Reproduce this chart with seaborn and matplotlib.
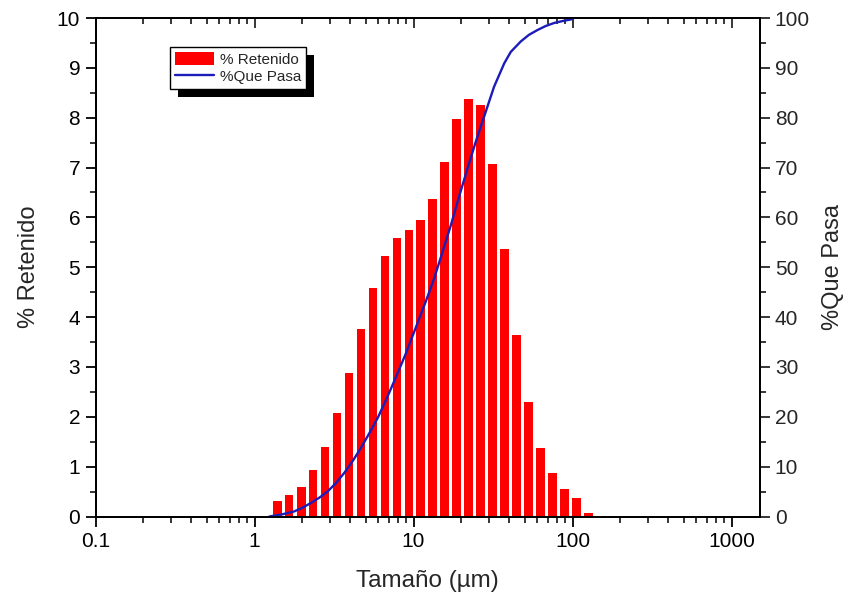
import numpy as np
import matplotlib
matplotlib.use("Agg")
import matplotlib.pyplot as plt
import seaborn as sns
from matplotlib.patches import Patch, Rectangle
from matplotlib.lines import Line2D
from matplotlib.ticker import FixedLocator, FixedFormatter, LogLocator, NullFormatter, MultipleLocator

# ---- data ----
tamano = [1.39, 1.65, 1.97, 2.34, 2.78, 3.31, 3.93, 4.68, 5.56, 6.61, 7.86, 9.35,
          11.1, 13.2, 15.7, 18.7, 22.2, 26.4, 31.4, 37.4, 44.5, 52.9, 62.9, 74.8,
          88.9, 106.0, 126.0]
retenido = [0.32, 0.44, 0.60, 0.93, 1.40, 2.07, 2.88, 3.76, 4.59, 5.23, 5.58, 5.75,
            5.94, 6.37, 7.12, 7.98, 8.38, 8.26, 7.08, 5.37, 3.64, 2.29, 1.37, 0.87,
            0.56, 0.37, 0.07]
tamano_linea = [1.24, 1.50, 1.77, 2.00, 2.26, 2.55, 2.88, 3.25, 3.66, 4.12, 4.66,
                5.25, 5.94, 6.70, 7.55, 8.90, 10.6, 12.0, 13.5, 15.2, 17.2, 19.4,
                21.9, 24.7, 27.8, 32.1, 37.2, 40.9, 47.3, 53.1, 60.3, 67.9, 76.6,
                86.9, 97.5, 102.0]
que_pasa = [0.0, 0.45, 1.0, 1.75, 2.7, 3.75, 5.0, 6.7, 8.7, 11.0, 13.7,
            16.6, 19.7, 23.3, 27.1, 32.5, 38.8, 43.3, 47.8, 53.0, 58.5, 64.3,
            69.9, 75.3, 80.2, 86.2, 90.9, 93.2, 95.3, 96.6, 97.6, 98.4, 99.0,
            99.4, 99.7, 100.0]
x_ticks = [0.1, 1, 10, 100, 1000]
x_ticklabels = ["0.1", "1", "10", "100", "1000"]

sns.set_style("ticks")
plt.rcParams["font.family"] = ["Liberation Sans", "DejaVu Sans"]

W, H = 844, 599
fig = plt.figure(figsize=(W / 100, H / 100), dpi=100)
L, R, T, B = 95.5, 759.5, 18, 516.5
ax = fig.add_axes([L / W, 1 - B / H, (R - L) / W, (B - T) / H])
ax.set_xscale("log")

red = "#ff0000"
blue = "#1c1cb8"

sns.barplot(x=tamano, y=retenido, native_scale=True, orient="x", ax=ax,
            color=red, saturation=1, width=0.72, errorbar=None,
            edgecolor="none", linewidth=0)

ax2 = ax.twinx()
sns.lineplot(x=tamano_linea, y=que_pasa, ax=ax2, color=blue, linewidth=1.7,
             legend=False)

ax.set_xlim(0.1, 1500)
ax.set_ylim(0, 10)
ax2.set_ylim(0, 100)

# x ticks
ax.xaxis.set_major_locator(FixedLocator(x_ticks))
ax.xaxis.set_major_formatter(FixedFormatter(x_ticklabels))
ax.xaxis.set_minor_locator(LogLocator(base=10, subs=np.arange(2, 10)))
ax.xaxis.set_minor_formatter(NullFormatter())
ax.yaxis.set_major_locator(MultipleLocator(1))
ax.yaxis.set_minor_locator(MultipleLocator(0.5))
ax2.yaxis.set_major_locator(MultipleLocator(10))
ax2.yaxis.set_minor_locator(MultipleLocator(5))

lw = 1.3
for a in (ax, ax2):
    for s in a.spines.values():
        s.set_visible(True)
        s.set_linewidth(lw)
        s.set_color("black")

ax.tick_params(axis="both", which="major", direction="out", length=7, width=lw,
               labelsize=15, colors="black", pad=4)
ax.tick_params(axis="both", which="minor", direction="out", length=4, width=lw)
ax.tick_params(axis="x", top=False)
ax.tick_params(axis="y", right=False)
ax2.tick_params(axis="y", which="major", direction="out", length=7, width=lw,
                labelsize=15, pad=4)
ax2.tick_params(axis="y", which="minor", direction="out", length=4, width=lw)

# top ticks pointing in
ax2.xaxis.set_visible(True)
ax2.tick_params(axis="x", which="both", bottom=False, top=True, labelbottom=False,
                labeltop=False, direction="in", width=lw)
ax2.tick_params(axis="x", which="major", length=7)
ax2.tick_params(axis="x", which="minor", length=4)

ax.set_xlabel("Tamaño (µm)", fontsize=17.5, labelpad=14)
ax.set_ylabel("% Retenido", fontsize=17, labelpad=12)
ax2.set_ylabel("%Que Pasa", fontsize=17, labelpad=9)
ax.patch.set_visible(False)

handles = [Patch(facecolor=red, edgecolor="none"),
           Line2D([], [], color=blue, linewidth=1.7)]
leg = ax2.legend(handles, ["% Retenido", "%Que Pasa"], loc="upper left",
                 bbox_to_anchor=((170 - L) / (R - L), (B - 47) / (B - T)),
                 borderaxespad=0, fontsize=11, frameon=True, fancybox=False,
                 framealpha=1, edgecolor="black", handlelength=2.6,
                 handleheight=1.0, handletextpad=0.35, labelspacing=0.15,
                 borderpad=0.3)
leg.get_frame().set_linewidth(1.0)

fig.canvas.draw()
bb = leg.get_window_extent()
off = 8
x0, y0 = fig.transFigure.inverted().transform((bb.x0 + off, bb.y0 - off))
x1, y1 = fig.transFigure.inverted().transform((bb.x1 + off, bb.y1 - off))
shadow = Rectangle((x0, y0), x1 - x0, y1 - y0, transform=fig.transFigure,
                   facecolor="black", edgecolor="none", zorder=-1)
fig.add_artist(shadow)

fig.savefig("out.png", dpi=100)
